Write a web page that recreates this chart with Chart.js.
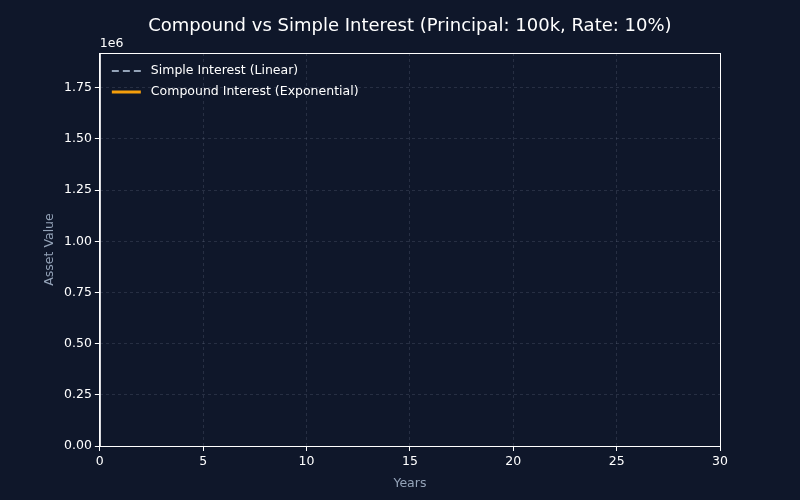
<!DOCTYPE html>
<html><head><meta charset="utf-8">
<script src="https://cdn.jsdelivr.net/npm/chart.js@4"></script>
<style>html,body{margin:0;background:#0f172a}#w{width:800px;height:500px}</style>
</head><body><div id="w"><canvas id="c"></canvas></div>
<script>
const seriesNames = ["Simple Interest (Linear)", "Compound Interest (Exponential)"];
const simpleValues = [];   // lines not drawn in the reference frame
const compoundValues = [];
const yTicks = [0, 250000, 500000, 750000, 1000000, 1250000, 1500000, 1750000];
const xRange = [0, 30];
const yRange = [0, 1920000];
const chartTitle = 'Compound vs Simple Interest (Principal: 100k, Rate: 10%)';

const FONT = "'DejaVu Sans', sans-serif";
const legendPlugin = {
  id: 'lg',
  afterDraw(ch) {
    const ctx = ch.ctx, a = ch.chartArea;
    ctx.save();
    ctx.font = "12.5px " + FONT;
    ctx.textBaseline = 'middle';
    ch.data.datasets.forEach((d, i) => {
      const y = a.top + 18 + i * 21;
      ctx.strokeStyle = d.borderColor; ctx.lineWidth = d.borderWidth;
      ctx.setLineDash(d.borderDash || []);
      ctx.beginPath(); ctx.moveTo(a.left + 12, y); ctx.lineTo(a.left + 41, y); ctx.stroke();
      ctx.setLineDash([]);
      ctx.fillStyle = '#ffffff';
      ctx.fillText(d.label, a.left + 51, y);
    });
    ctx.textBaseline = 'bottom';
    ctx.fillText('1e6', a.left, a.top - 3);
    ctx.font = "18px " + FONT;
    ctx.textAlign = 'center'; ctx.textBaseline = 'middle';
    ctx.fillText(chartTitle, (a.left + a.right) / 2, 26);
    ctx.restore();
  }
};
const bg = {id:'bg', beforeDraw(ch){const c=ch.ctx;c.save();c.fillStyle='#0f172a';c.fillRect(0,0,ch.width,ch.height);c.restore();}};

new Chart(document.getElementById('c'), {
  type: 'line',
  data: { datasets: [
    { label: seriesNames[0], data: simpleValues, borderColor: '#94a3b8', borderWidth: 2, borderDash: [7,4], pointRadius: 0 },
    { label: seriesNames[1], data: compoundValues, borderColor: '#f59e0b', borderWidth: 3, pointRadius: 0 }
  ]},
  options: {
    responsive: true, maintainAspectRatio: false, animation: false,
    layout: { padding: { left: 38, right: 80, top: 53, bottom: 5 } },
    plugins: { legend: { display: false }, tooltip: { enabled: false }, title: { display: false } },
    scales: {
      x: { type: 'linear', min: xRange[0], max: xRange[1],
        ticks: { stepSize: 5, color: '#ffffff', font: { family: FONT, size: 12.5 } },
        grid: { color: 'rgba(148,163,184,0.18)', tickColor: '#ffffff', tickLength: 5 },
        border: { color: '#ffffff', dash: [3,3] },
        title: { display: true, text: 'Years', color: '#94a3b8', font: { family: FONT, size: 12.5 } } },
      y: { min: yRange[0], max: yRange[1],
        afterBuildTicks: s => { s.ticks = yTicks.map(v => ({ value: v })); },
        ticks: { color: '#ffffff', font: { family: FONT, size: 12.5 }, callback: v => (v / 1e6).toFixed(2) },
        grid: { color: 'rgba(148,163,184,0.18)', tickColor: '#ffffff', tickLength: 5 },
        border: { color: '#ffffff', dash: [3,3] },
        title: { display: true, text: 'Asset Value', color: '#94a3b8', font: { family: FONT, size: 12.5 } } }
    }
  },
  plugins: [bg, legendPlugin, {
    id: 'frame', afterDraw(ch) { const c = ch.ctx, a = ch.chartArea; c.save(); c.strokeStyle = '#ffffff'; c.lineWidth = 1;
      c.strokeRect(a.left + 0.5, a.top + 0.5, a.right - a.left, a.bottom - a.top); c.restore(); }
  }]
});
</script></body></html>
